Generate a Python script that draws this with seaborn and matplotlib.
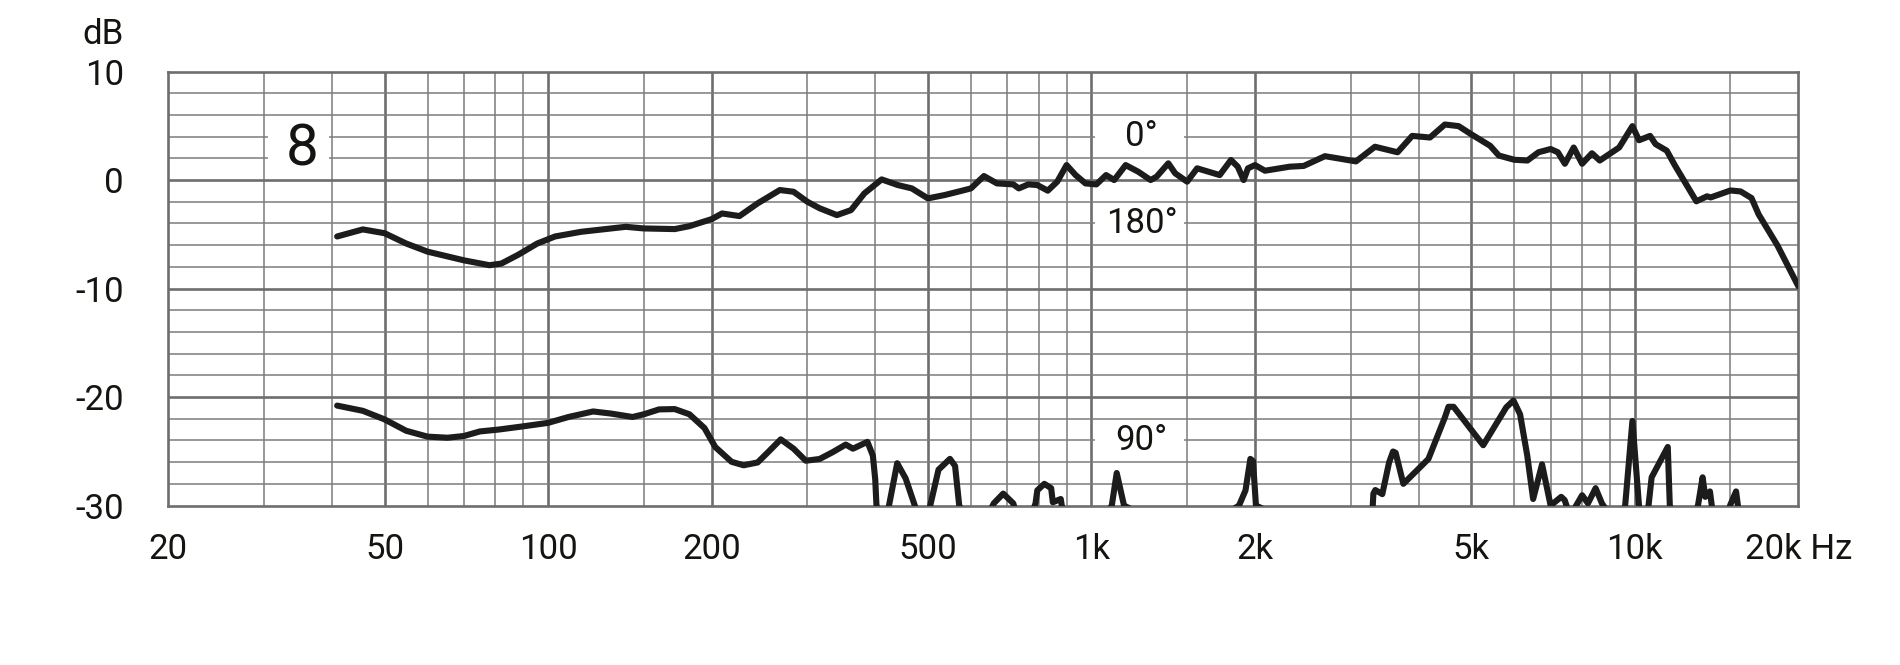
import matplotlib.pyplot as plt
import pandas as pd
import seaborn as sns
from matplotlib.ticker import NullLocator

# 0 degree response (Hz, dB)
freq_0 = [40.9, 45.6, 50, 54.8, 60, 70, 78, 82, 88, 95.5,
          103, 115, 139, 150, 171, 182, 200, 209, 225, 243,
          267, 283, 300, 316, 340, 361, 382, 411, 440, 467,
          500, 537, 576, 600, 634, 670, 718, 735, 765, 795,
          831, 865, 900, 935, 975, 1021, 1064, 1101, 1156, 1219,
          1285, 1318, 1385, 1426, 1500, 1565, 1722, 1806, 1859, 1906,
          1941, 2000, 2086, 2316, 2458, 2690, 3068, 3325, 3659, 3893,
          4198, 4472, 4740, 5000, 5417, 5621, 6000, 6344, 6648, 7000,
          7218, 7436, 7719, 8000, 8340, 8620, 9360, 9900, 10180, 10670,
          10920, 11450, 11850, 12980, 13580, 13800, 15000, 15660, 16400, 16900,
          18300, 20000]
db_0 = [-5.2, -4.55, -4.9, -5.85, -6.6, -7.4, -7.85, -7.7, -6.9, -5.85,
        -5.2, -4.77, -4.31, -4.46, -4.52, -4.25, -3.6, -3.08, -3.32, -2.15,
        -0.92, -1.08, -2.0, -2.6, -3.23, -2.77, -1.23, 0.06, -0.46, -0.77,
        -1.69, -1.38, -1.0, -0.77, 0.37, -0.31, -0.4, -0.77, -0.4, -0.46,
        -0.98, -0.15, 1.38, 0.46, -0.31, -0.4, 0.46, 0.0, 1.38, 0.77,
        0.0, 0.31, 1.54, 0.62, -0.15, 1.08, 0.46, 1.85, 1.23, 0.0,
        1.08, 1.38, 0.86, 1.23, 1.3, 2.2, 1.72, 3.07, 2.56, 4.07,
        3.92, 5.12, 4.97, 4.22, 3.16, 2.26, 1.87, 1.8, 2.56, 2.86,
        2.56, 1.5, 3.0, 1.5, 2.47, 1.8, 3.0, 4.97, 3.67, 4.07,
        3.31, 2.71, 1.36, -1.96, -1.5, -1.6, -0.96, -1.05, -1.66, -3.16,
        -6.02, -9.79]

# 90 degree response (Hz, dB); values below -30 run off the chart
freq_90 = [40.9, 45.6, 50, 54.8, 60, 65.3, 70, 74.9, 81, 90,
           100, 109, 121, 130.4, 143, 150, 160, 171, 182, 194,
           203, 217.6, 229, 243, 254, 268, 283, 298, 316, 334,
           353, 364, 387, 396, 400, 402, 413,
           424, 439, 455, 473, 488,
           505, 523, 549, 561, 571, 615,
           661, 688, 718, 750,
           789, 795, 819, 843, 849, 878, 885, 990,
           1090, 1113, 1148, 1500,
           1869, 1921, 1961, 1983, 2008, 2700,
           3290, 3303, 3330, 3430, 3530, 3590, 3630, 3750, 4170, 4470,
           4540, 4640, 5260, 5800, 5980, 6150, 6340, 6500, 6750, 7000,
           7320, 7430, 7600,
           7800, 8000, 8200, 8470, 8700, 9300,
           9600, 9900, 10180, 10400,
           10600, 10740, 11500, 11600, 12300,
           13070, 13330, 13480, 13750, 13900, 14500,
           15000, 15360, 15500]
db_90 = [-20.79, -21.27, -22.06, -23.11, -23.65, -23.75, -23.59, -23.17, -23.0, -22.7,
         -22.38, -21.84, -21.33, -21.52, -21.84, -21.59, -21.14, -21.11, -21.59, -22.86,
         -24.6, -25.97, -26.29, -26.03, -25.08, -23.9, -24.76, -25.87, -25.71, -25.08,
         -24.38, -24.76, -24.13, -25.4, -27.6, -29.9, -33,
         -30, -26.1, -27.5, -30, -33,
         -30, -26.7, -25.7, -26.35, -30, -33,
         -29.8, -28.9, -29.8, -33,
         -29.8, -28.6, -28.0, -28.4, -29.7, -29.4, -30.5, -33,
         -30, -27.0, -30, -33,
         -30, -28.6, -25.7, -25.9, -30, -33,
         -30.5, -28.9, -28.57, -28.95, -26.03, -25.02, -25.14, -28.0, -25.71, -21.9,
         -20.9, -20.9, -24.44, -20.95, -20.32, -21.59, -25.4, -29.4, -26.2, -30.0,
         -29.2, -29.5, -31,
         -30, -29.05, -29.8, -28.4, -29.8, -32,
         -30, -22.2, -30, -32,
         -30, -27.4, -24.6, -30, -33,
         -30, -27.4, -29.2, -28.7, -30.5, -32,
         -29.9, -28.7, -30.2]

grid_minor_hz = [30, 40, 60, 70, 80, 90, 150, 300, 400, 600, 700, 800, 900,
                 1500, 3000, 4000, 6000, 7000, 8000, 9000, 15000]
grid_major_hz = [50, 100, 200, 500, 1000, 2000, 5000, 10000]
x_ticks = [20, 50, 100, 200, 500, 1000, 2000, 5000, 10000, 20000]
x_tick_labels = ['20', '50', '100', '200', '500', '1k', '2k', '5k', '10k', '20k Hz']
y_ticks = [10, 0, -10, -20, -30]

# curve labels: text, Hz, dB, white box (Hz range, dB range)
labels = [
    ('8', 35.2, 2.8, (30.5, 39.5), (0.4, 5.6)),
    ('0°', 1236, 4.0, (1015, 1480), (2.4, 5.6)),
    ('180°', 1236, -4.0, (1015, 1480), (-5.6, -2.4)),
    ('90°', 1236, -24.0, (1015, 1480), (-25.6, -22.4)),
]

sns.set_style('white')
plt.rcParams['font.family'] = ['Roboto', 'DejaVu Sans']
text_color = '#141410'
grid_color = '#7c7c7c'

fig = plt.figure(figsize=(19, 6.65), dpi=100)
ax = fig.add_axes([0.0886, 0.2398, 0.8579, 0.6526])
ax.set_xscale('log')
ax.set_xlim(20, 20000)
ax.set_ylim(-30, 10)

# grid
for hz in grid_minor_hz:
    ax.axvline(hz, color=grid_color, lw=1.1, zorder=1)
for hz in grid_major_hz:
    ax.axvline(hz, color='#6e6e6e', lw=1.9, zorder=1)
for y in range(-28, 10, 2):
    major = y % 10 == 0
    ax.axhline(y, color='#6e6e6e' if major else grid_color,
               lw=1.9 if major else 1.1, zorder=1)
for s in ax.spines.values():
    s.set_color('#6e6e6e')
    s.set_linewidth(1.9)

# label boxes and text
for txt, hz, db, (x0, x1), (y0, y1) in labels:
    ax.fill_between([x0, x1], y0, y1, color='white', lw=0, zorder=2)
    ax.text(hz, db, txt, ha='center', va='center',
            fontsize=42 if txt == '8' else 25, color=text_color, zorder=3)

# curves
df0 = pd.DataFrame({'Hz': freq_0, 'dB': db_0})
df90 = pd.DataFrame({'Hz': freq_90, 'dB': db_90})
for d in (df0, df90):
    sns.lineplot(data=d, x='Hz', y='dB', sort=False, estimator=None,
                 color='#1c1c1c', lw=4.4, ax=ax, zorder=5,
                 solid_joinstyle='round', solid_capstyle='round')

ax.set_xticks(x_ticks, x_tick_labels)
ax.xaxis.set_minor_locator(NullLocator())
ax.set_yticks(y_ticks, [str(v) for v in y_ticks])
ax.tick_params(length=0, labelsize=25, labelcolor=text_color)
ax.tick_params(axis='x', pad=20)
ax.tick_params(axis='y', pad=32)
ax.set_xlabel('')
ax.set_ylabel('')
fig.text(123.6 / 1900, 1 - 34 / 665, 'dB', ha='right', va='center',
         fontsize=25, color=text_color)

fig.savefig('out.png', dpi=100, facecolor='white')
